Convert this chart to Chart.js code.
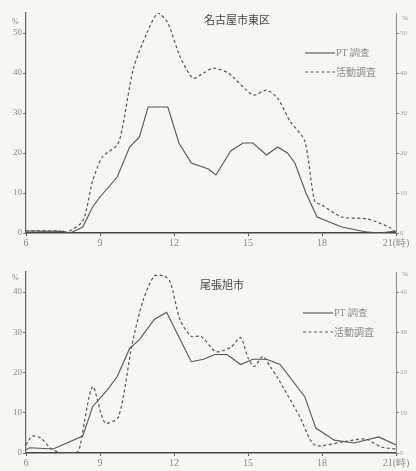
<!DOCTYPE html>
<html>
<head>
<meta charset="utf-8">
<script src="https://cdn.jsdelivr.net/npm/chart.js@4"></script>
<style>
  body { margin: 0; background: #f6f6f3; }
  .box { position: absolute; left: 0; width: 416px; }
  #boxTop { top: 0; height: 250px; }
  #boxBottom { top: 250px; height: 221px; }
</style>
</head>
<body>
<div class="box" id="boxTop"><canvas id="chartTop"></canvas></div>
<div class="box" id="boxBottom"><canvas id="chartBottom"></canvas></div>
<script>
// 名古屋市東区
const topTitle = '名古屋市東区'
const topPtHours = [6, 7.5, 7.8, 8.3, 8.7, 9.0, 9.7, 10.2, 10.6, 10.95, 11.75, 12.2, 12.7, 13.4, 13.7, 14.3, 14.8, 15.2, 15.75, 16.2, 16.6, 16.9, 17.35, 17.8, 18.8, 19.75, 20.3, 21]
const topPtValues = [0.5, 0.4, 0, 1.5, 6.5, 9, 14, 21.5, 24, 31.5, 31.5, 22.5, 17.5, 16, 14.5, 20.5, 22.5, 22.5, 19.5, 21.5, 20, 17.5, 10, 4, 1.5, 0.3, 0, 0.5]
const topActHours = [6, 7.3, 7.6, 8.3, 8.7, 9.1, 9.7, 9.9, 10.35, 10.9, 11.35, 11.75, 12.25, 12.77, 13.2, 13.6, 14.2, 15.2, 15.75, 16.2, 16.7, 17.3, 17.7, 18.0, 18.8, 19.85, 20.8, 21]
const topActValues = [0.5, 0.5, 0, 3, 13, 19, 22, 26, 41, 50, 55, 52.5, 44, 38.7, 40, 41.2, 40, 34.5, 35.7, 33.7, 28, 23, 8, 7, 4, 3.5, 1.2, 0]

// 尾張旭市
const bottomTitle = '尾張旭市'
const bottomPtHours = [6, 6.15, 7.1, 8.3, 8.7, 9.3, 9.7, 10.2, 10.6, 11.2, 11.7, 12.7, 13.2, 13.65, 14.15, 14.7, 15.2, 15.75, 16.3, 17.3, 17.75, 18.5, 19.3, 20.3, 21]
const bottomPtValues = [0.8, 1.3, 1, 4.2, 11.5, 15.7, 19, 26, 28.2, 33.2, 35, 22.7, 23.3, 24.5, 24.5, 22, 23.3, 23.3, 22, 14, 6.2, 3.2, 2.5, 4, 2]
const bottomActHours = [6, 6.25, 6.6, 7, 7.4, 8.1, 8.2, 8.7, 9.2, 9.75, 10.3, 10.75, 11.2, 11.6, 11.85, 12.25, 12.7, 13.1, 13.7, 14.3, 14.7, 15.0, 15.25, 15.6, 15.9, 16.2, 17.1, 17.7, 18.8, 19.75, 20.4, 21]
const bottomActValues = [2, 4.2, 3.7, 1.2, 0, 0.3, 2, 16.5, 7.5, 9, 27, 38, 44, 44, 42.5, 33, 29, 29, 25.2, 26.3, 28.7, 23.7, 21.5, 24, 21.5, 18.7, 9, 2, 2.7, 3.5, 1.5, 1]

const seriesNames = ['PT 調査', '活動調査']
const hourTicks = [6, 9, 12, 15, 18, 21]

const ink = '#555'
const faint = '#8a8a8a'

const toPoints = (xs, ys) => xs.map((x, i) => ({x: x, y: ys[i]}))

// title, legend and % marks drawn inside the plot
const overlay = {
  id: 'overlay',
  afterDraw(chart, args, o) {
    const ctx = chart.ctx
    ctx.save()
    ctx.fillStyle = '#444'
    ctx.font = '11px "Noto Sans CJK JP"'
    ctx.textAlign = 'center'
    ctx.textBaseline = 'middle'
    ctx.fillText(o.title, o.titleX, o.titleY)

    ctx.font = '10px "Liberation Serif"'
    ctx.textAlign = 'left'
    ctx.strokeStyle = ink
    ctx.lineWidth = 1.1
    seriesNames.forEach((name, i) => {
      const y = o.legendY + i * 19
      ctx.setLineDash(i === 0 ? [] : [3, 2.5])
      ctx.beginPath()
      ctx.moveTo(o.legendX, y)
      ctx.lineTo(o.legendX + 30, y)
      ctx.stroke()
      ctx.fillStyle = faint
      ctx.font = i === 0 ? '10px "Liberation Serif"' : '10px "Noto Sans CJK JP"'
      ctx.fillText(name, o.legendX + 31, y)
    })

    ctx.fillStyle = faint
    ctx.font = '8px "Liberation Serif"'
    ctx.fillText('%', 12, o.pctY)
    ctx.font = '7px "Liberation Serif"'
    ctx.fillText('%', 402, o.pctY - 4)
    ctx.restore()
  }
}

function makeChart(id, ptPoints, actPoints, yMax, padTop, xHeight, extra) {
  return new Chart(document.getElementById(id), {
    type: 'line',
    data: {
      datasets: [{
        label: seriesNames[0],
        data: ptPoints,
        borderColor: ink,
        borderWidth: 1.1,
        pointRadius: 0,
        tension: 0
      }, {
        label: seriesNames[1],
        data: actPoints,
        borderColor: ink,
        borderWidth: 1.2,
        borderDash: [3, 2.5],
        pointRadius: 0,
        tension: 0.25
      }]
    },
    options: {
      responsive: true,
      maintainAspectRatio: false,
      animation: false,
      layout: {padding: {top: padTop, left: 0, right: 0, bottom: 0}},
      plugins: {legend: {display: false}, tooltip: {enabled: false}, overlay: extra},
      scales: {
        x: {
          type: 'linear',
          min: 6,
          max: 21,
          afterBuildTicks: s => { s.ticks = hourTicks.map(v => ({value: v})) },
          afterFit: s => { s.height = xHeight },
          ticks: {
            padding: 1,
            color: faint,
            font: {family: 'Liberation Serif', size: 10},
            callback: v => v === 21 ? '21(時)' : v
          },
          grid: {drawOnChartArea: false, tickLength: 3, color: ink},
          border: {color: '#444', width: 1.6}
        },
        y: {
          position: 'left',
          min: 0,
          max: yMax,
          afterBuildTicks: s => { s.ticks = s.ticks.filter(t => t.value % 10 === 0) },
          afterFit: s => { s.width = 26 },
          ticks: {stepSize: 10, padding: 1, color: faint, font: {family: 'Liberation Serif', size: 9}},
          grid: {drawOnChartArea: false, tickLength: 3, color: '#777'},
          border: {color: '#666', width: 1.2}
        },
        y2: {
          position: 'right',
          min: 0,
          max: yMax,
          afterBuildTicks: s => { s.ticks = s.ticks.filter(t => t.value % 10 === 0) },
          afterFit: s => { s.width = 20 },
          ticks: {stepSize: 10, padding: 1, color: '#a0a0a0', font: {family: 'Liberation Serif', size: 7}},
          grid: {drawOnChartArea: false, tickLength: 3, color: '#888'},
          border: {color: '#888', width: 1}
        }
      }
    },
    plugins: [overlay]
  })
}

makeChart('chartTop', toPoints(topPtHours, topPtValues), toPoints(topActHours, topActValues), 55, 13, 17,
  {title: topTitle, titleX: 237, titleY: 20, legendX: 305, legendY: 53, pctY: 22})
makeChart('chartBottom', toPoints(bottomPtHours, bottomPtValues), toPoints(bottomActHours, bottomActValues), 45, 22, 18,
  {title: bottomTitle, titleX: 222, titleY: 35, legendX: 303, legendY: 63, pctY: 28})
</script>
</body>
</html>
